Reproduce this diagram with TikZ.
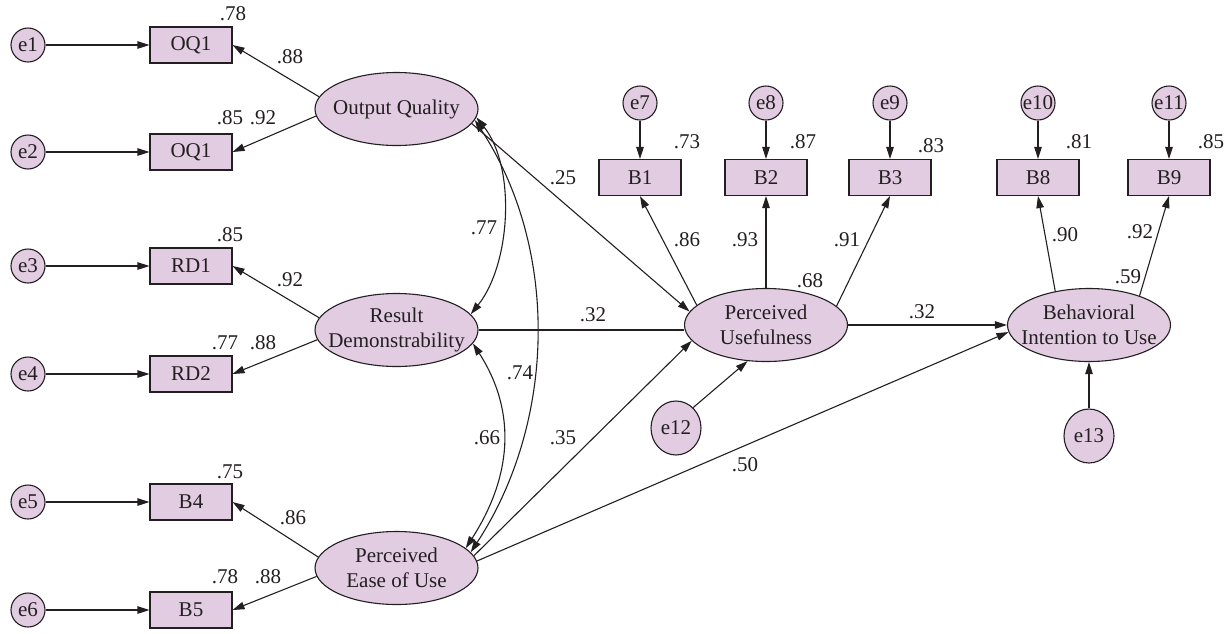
\documentclass[tikz,border=0pt]{standalone}
\usepackage{fontspec}
\setmainfont{Liberation Serif}
\usetikzlibrary{arrows.meta,shapes.geometric}
\definecolor{latfill}{RGB}{226,204,226}
\definecolor{ink}{RGB}{35,31,32}
\begin{document}
\begin{tikzpicture}[x=1pt,y=-1pt,
  font=\fontsize{21}{25}\selectfont,
  every node/.style={text=ink},
  obs/.style={draw=ink, fill=latfill, line width=1.1pt, minimum width=82pt, minimum height=36pt, inner sep=0pt},
  latent/.style={ellipse, draw=ink, fill=latfill, line width=1.1pt, minimum width=163pt, minimum height=73pt, inner sep=0pt,
    label={[align=center, inner sep=0pt]center:#1}},
  err/.style={circle, draw=ink, fill=latfill, line width=1.1pt, minimum size=34pt, inner sep=0pt},
  dist/.style={ellipse, draw=ink, fill=latfill, line width=1.1pt, minimum width=50pt, minimum height=54pt, inner sep=0pt},
  tipA/.tip={Triangle[length=12pt,width=7.5pt]},
  reg/.style={draw=ink, line width=1.1pt, -tipA},
  cov/.style={draw=ink, line width=1.1pt, tipA-tipA},
  plain/.style={draw=ink, line width=1.1pt},
  coef/.style={inner sep=0pt}
]
\useasboundingbox (0,0) rectangle (1225,633);

% error terms of the left indicators
\node[err] (e1) at (28,45) {e1};
\node[err] (e2) at (28,152) {e2};
\node[err] (e3) at (28,266) {e3};
\node[err] (e4) at (28,374) {e4};
\node[err] (e5) at (28,502) {e5};
\node[err] (e6) at (28,610) {e6};

% left indicators
\node[obs] (oq1a) at (191,45) {OQ1};
\node[obs] (oq1b) at (191,152) {OQ1};
\node[obs] (rd1) at (191,266) {RD1};
\node[obs] (rd2) at (191,374) {RD2};
\node[obs] (b4) at (191,502) {B4};
\node[obs] (b5) at (191,610) {B5};

% exogenous latent variables
\node[latent={Output Quality}] (oq) at (396.5,109) {};
\node[latent={Result\\Demonstrability}] (rd) at (396.5,330) {};
\node[latent={Perceived\\Ease of Use}] (peou) at (396.5,568) {};

% endogenous latent variables
\node[latent={Perceived\\Usefulness}] (pu) at (766,325) {};
\node[latent={Behavioral\\Intention to Use}] (bi) at (1089,325) {};

% top indicators and their error terms
\node[obs] (b1) at (640,177.5) {B1};
\node[obs] (b2) at (766,177.5) {B2};
\node[obs] (b3) at (890,177.5) {B3};
\node[obs] (b8) at (1038,177.5) {B8};
\node[obs] (b9) at (1169,177.5) {B9};
\node[err] (e7) at (640,103) {e7};
\node[err] (e8) at (766,103) {e8};
\node[err] (e9) at (890,103) {e9};
\node[err] (e10) at (1038,103) {e10};
\node[err] (e11) at (1169,103) {e11};

% disturbances
\node[dist] (e12) at (676,428) {e12};
\node[dist] (e13) at (1089,436) {e13};

% error paths
\foreach \e/\b in {e1/oq1a,e2/oq1b,e3/rd1,e4/rd2,e5/b4,e6/b5}
  \draw[reg] (\e) -- (\b);
\foreach \e/\b in {e7/b1,e8/b2,e9/b3,e10/b8,e11/b9}
  \draw[reg] (\e) -- (\b);
\draw[reg] (e12.50) -- (pu.243);
\draw[reg] (e13) -- (bi);

% measurement loadings
\draw[reg] (oq.171) -- (oq1a.east);
\draw[reg] (oq.185) -- (oq1b.east);
\draw[reg] (rd.171) -- (rd1.east);
\draw[reg] (rd.187) -- (rd2.east);
\draw[reg] (peou.172) -- (b4.east);
\draw[reg] (peou.186) -- (b5.east);
\draw[reg] (pu.164) -- (b1.south);
\draw[reg] (pu) -- (b2);
\draw[reg] (pu.15) -- (b3.south);
\draw[reg] (bi.135) -- (b8.south);
\draw[reg] (bi.30) -- (b9.south);

% structural paths
\draw[reg] (oq.-11) -- (pu.170);
\draw[plain] (rd.east) -- (rd.east -| pu.west);
\draw[reg] (peou.9) -- (pu.192);
\draw[reg] (peou.5) -- (bi.185);
\draw[reg] (pu.east) -- (bi.west);

% correlations among exogenous constructs
\draw[cov] (oq.-6) .. controls +(40,50) and +(40,-50) .. (rd.12);
\draw[cov] (oq.-8) .. controls +(85,130) and +(85,-130) .. (peou.12);
\draw[cov] (rd.-10) .. controls +(45,70) and +(45,-70) .. (peou.16);

% coefficients
\node[coef] (c1) at (233,14) {.78};
\node[coef] (c2) at (290,57) {.88};
\node[coef] (c3) at (230,118) {.85};
\node[coef] (c4) at (263,118) {.92};
\node[coef] (c5) at (230,235) {.85};
\node[coef] (c6) at (290,280) {.92};
\node[coef] (c7) at (225,343) {.77};
\node[coef] (c8) at (263,343) {.88};
\node[coef] (c9) at (230,472) {.75};
\node[coef] (c10) at (293,518) {.86};
\node[coef] (c11) at (225,577) {.78};
\node[coef] (c12) at (268,577) {.88};
\node[coef] (c13) at (484,228) {.77};
\node[coef] (c14) at (520,373) {.74};
\node[coef] (c15) at (487,438) {.66};
\node[coef] (c16) at (563,178) {.25};
\node[coef] (c17) at (593,315) {.32};
\node[coef] (c18) at (563,438) {.35};
\node[coef] (c19) at (745,465) {.50};
\node[coef] (c20) at (687,142) {.73};
\node[coef] (c21) at (803,142) {.87};
\node[coef] (c22) at (931,146) {.83};
\node[coef] (c23) at (1079,142) {.81};
\node[coef] (c24) at (1211,142) {.85};
\node[coef] (c25) at (687,240) {.86};
\node[coef] (c26) at (745,240) {.93};
\node[coef] (c27) at (847,240) {.91};
\node[coef] (c28) at (810,281) {.68};
\node[coef] (c29) at (1065,235) {.90};
\node[coef] (c30) at (1140,232) {.92};
\node[coef] (c31) at (1128,277) {.59};
\node[coef] (c32) at (922,312) {.32};
\end{tikzpicture}
\end{document}
